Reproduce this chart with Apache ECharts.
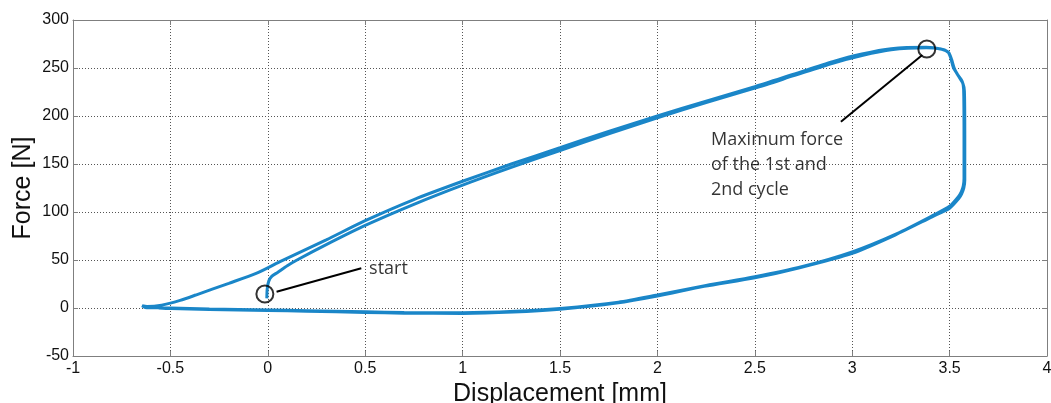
<!DOCTYPE html>
<html>
<head>
<meta charset="utf-8">
<script src="https://cdn.jsdelivr.net/npm/echarts@6/dist/echarts.min.js"></script>
<style>
html,body{margin:0;padding:0;background:#fff;}
#chart{width:1051px;height:403px;}
</style>
</head>
<body>
<div id="chart"></div>
<script>
// Tick settings
const xTicks = { min: -1, max: 4, step: 0.5 };
const yTicks = { min: -50, max: 300, step: 50 };

// Cycle 1 loading (starts at "start")
const load1X = [-0.005, -0.003, 0.005, 0.02, 0.05, 0.1, 0.15, 0.3, 0.5, 0.75, 1.0, 1.25, 1.5, 1.75, 2.0, 2.25, 2.5, 2.7, 2.9, 3.05, 3.2, 3.38];
const load1Y = [10, 20, 28, 33, 37, 44, 50, 66, 86, 108, 128, 146.5, 164, 181.5, 198, 214, 229, 242, 255, 263, 269, 271];

// Cycle 1 unloading
const unload1X = [3.45, 3.49, 3.505, 3.52, 3.545, 3.565, 3.572, 3.574, 3.574, 3.57, 3.56, 3.545, 3.5, 3.42, 3.23, 3.0, 2.74, 2.5, 2.25, 2.0, 1.8, 1.5, 1.27, 1.0, 0.7, 0.5, 0.2, 0.0, -0.3, -0.5, -0.6, -0.63, -0.645];
const unload1Y = [270, 267, 261, 250, 242, 236, 228, 180, 135, 127, 121, 116, 106, 97, 77.5, 58.5, 43, 32.5, 23.5, 13.5, 6, -0.5, -3.5, -5, -4.8, -4, -2.8, -2, -1, 0, 0.3, 0.6, 2.4];

// Cycle 2 loading
const load2X = [-0.62, -0.545, -0.45, -0.37, -0.2, -0.06, 0.06, 0.3, 0.5, 0.75, 1.0, 1.25, 1.5, 1.75, 2.0, 2.25, 2.5, 2.7, 2.9, 3.05, 3.2, 3.38];
const load2Y = [1.5, 3, 8, 13.5, 25.7, 36, 48, 71, 91, 113, 132, 150, 167, 184, 200, 215.5, 230.5, 243.5, 256.5, 264.5, 270, 271.5];

// Cycle 2 unloading
const unload2X = [3.46, 3.495, 3.51, 3.525, 3.55, 3.568, 3.576, 3.578, 3.578, 3.573, 3.562, 3.547, 3.5, 3.41, 3.22, 3.0, 2.73, 2.5, 2.24, 2.0, 1.79, 1.5, 1.26, 1.0, 0.7, 0.5, 0.2, 0.0, -0.3, -0.5, -0.56];
const unload2Y = [269.5, 266, 259, 249, 240, 234, 226, 180, 133, 125, 119, 114, 104, 95, 76, 57, 42, 31.5, 22.5, 12.5, 5.2, -1.2, -4.2, -5.6, -5.4, -4.6, -3.4, -2.6, -1.6, -0.6, 0];

// Annotations
const startMark = [-0.015, 14.6];
const startLeader = [[0.045, 17], [0.48, 41.4]];
const startText = { label: 'start', pos: [0.52, 54] };
const maxMark = [3.383, 269.8];
const maxLeader = [[3.36, 263.5], [2.942, 194]];
const maxText = { label: 'Maximum force\nof the 1st and\n2nd cycle', pos: [2.275, 188] };

const zip = (xs, ys) => xs.map((x, i) => [x, ys[i]]);
const curve = [].concat(zip(load1X, load1Y), zip(unload1X, unload1Y), zip(load2X, load2Y), zip(unload2X, unload2Y));

const blue = '#1a86c8';
const axisGray = '#7f7f7f';
const chart = echarts.init(document.getElementById('chart'));
chart.setOption({
  animation: false,
  backgroundColor: '#fff',
  grid: { left: 73, right: 4, top: 20, bottom: 47, containLabel: false, outerBoundsMode: 'none' },
  xAxis: [{
    type: 'value', min: xTicks.min, max: xTicks.max, interval: xTicks.step,
    name: 'Displacement [mm]', nameLocation: 'middle', nameGap: 22,
    nameTextStyle: { fontFamily: 'Liberation Sans', fontSize: 25, color: '#111' },
    axisLine: { onZero: false, lineStyle: { color: axisGray, width: 1 } },
    axisTick: { inside: true, length: 5, lineStyle: { color: axisGray } },
    axisLabel: { margin: 5, fontFamily: 'Liberation Sans', fontSize: 16, color: '#111' },
    splitLine: { show: true, lineStyle: { color: '#555', type: [1, 2], width: 1 } }
  }, {
    type: 'value', position: 'top', min: xTicks.min, max: xTicks.max, interval: xTicks.step,
    axisLine: { onZero: false, lineStyle: { color: axisGray, width: 1 } },
    axisTick: { inside: true, length: 5, lineStyle: { color: axisGray } },
    axisLabel: { show: false }, splitLine: { show: false }
  }],
  yAxis: [{
    type: 'value', min: yTicks.min, max: yTicks.max, interval: yTicks.step,
    name: 'Force [N]', nameLocation: 'middle', nameGap: 37, nameRotate: 90, nameMoveOverlap: false,
    nameTextStyle: { fontFamily: 'Liberation Sans', fontSize: 25, color: '#111' },
    axisLine: { show: true, onZero: false, lineStyle: { color: axisGray, width: 1 } },
    axisTick: { show: true, inside: true, length: 5, lineStyle: { color: axisGray } },
    axisLabel: { margin: 4, fontFamily: 'Liberation Sans', fontSize: 16, color: '#111' },
    splitLine: { show: true, lineStyle: { color: '#555', type: [1, 2], width: 1 } }
  }, {
    type: 'value', position: 'right', min: yTicks.min, max: yTicks.max, interval: yTicks.step,
    axisLine: { show: true, onZero: false, lineStyle: { color: axisGray, width: 1 } },
    axisTick: { show: true, inside: true, length: 5, lineStyle: { color: axisGray } },
    axisLabel: { show: false }, splitLine: { show: false }
  }],
  series: [
    {
      type: 'line', data: curve, showSymbol: false, symbol: 'none', smooth: 0.25,
      lineStyle: { color: blue, width: 3 }, z: 2
    },
    {
      type: 'line', data: startLeader, symbol: 'none', lineStyle: { color: '#000', width: 2 }, z: 3
    },
    {
      type: 'line', data: maxLeader, symbol: 'none', lineStyle: { color: '#000', width: 2 }, z: 3
    },
    {
      type: 'scatter', data: [startMark, maxMark], symbol: 'circle', symbolSize: 17,
      itemStyle: { color: 'rgba(0,0,0,0)', borderColor: '#000', borderWidth: 2 }, z: 4
    },
    {
      type: 'scatter', symbolSize: 0, z: 5, silent: true,
      data: [
        { value: startText.pos, name: startText.label },
        { value: maxText.pos, name: maxText.label }
      ],
      label: {
        show: true, position: [0, 0], formatter: p => p.name,
        fontFamily: 'Open Sans', fontSize: 18, lineHeight: 25, color: '#000',
        align: 'left', verticalAlign: 'top'
      }
    }
  ]
});
</script>
</body>
</html>
